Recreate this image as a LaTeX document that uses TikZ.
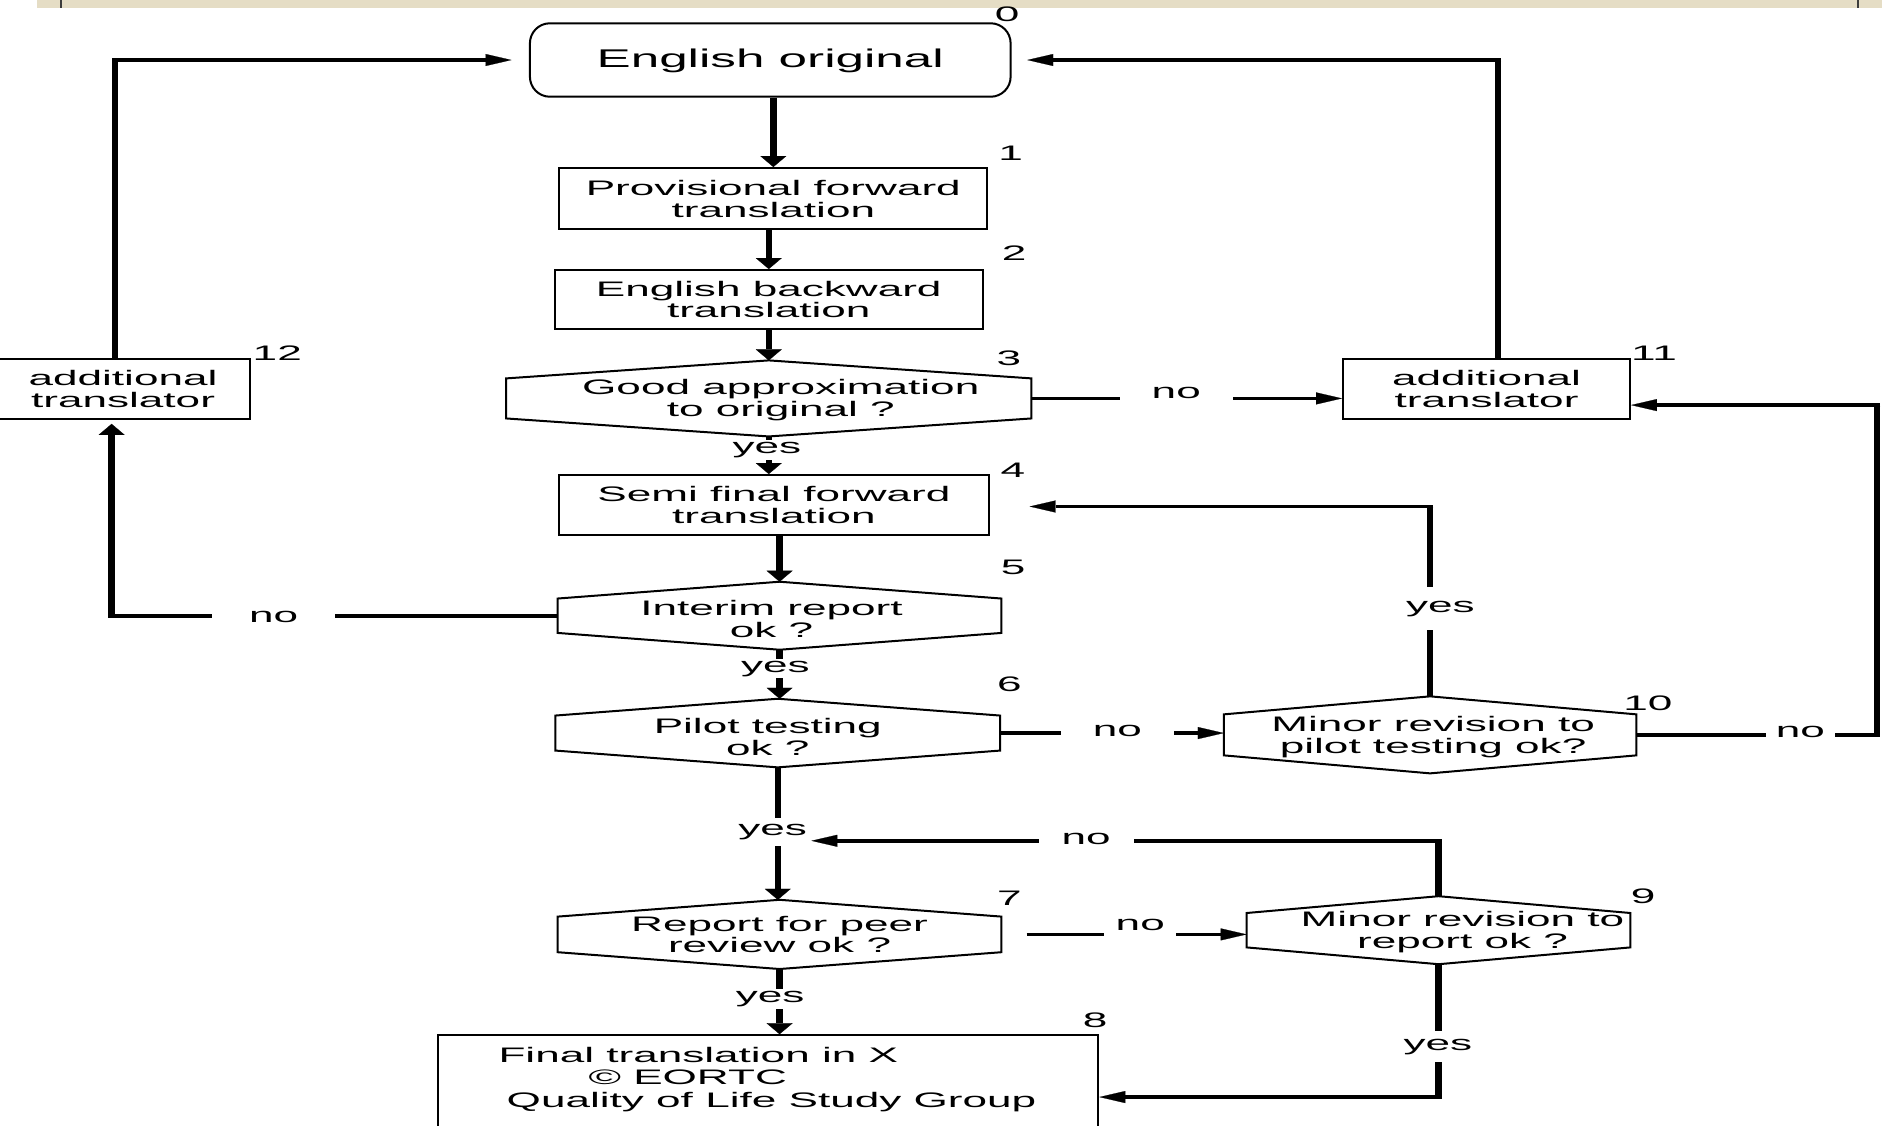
\documentclass[tikz,border=0pt]{standalone}
\usepackage{fontspec}
\setmainfont{Liberation Sans}[FakeStretch=2.1]
\newfontfamily\titlefont{Liberation Sans}[FakeStretch=2.0]
\usetikzlibrary{arrows.meta,calc,fit}
\pgfdeclarelayer{bg}
\pgfsetlayers{bg,main}
\definecolor{bandbeige}{RGB}{229,221,197}
\definecolor{banddark}{RGB}{60,60,60}
\tikzset{
  txt/.style={font=\fontsize{10.5}{10.9}\selectfont, align=center},
  box/.style={draw, line width=1pt, inner sep=0pt},
  hexn/.style={inner sep=0pt},
  hexb/.style={draw, line width=1pt, line join=miter},
  num/.style={font=\fontsize{10.5}{10.9}\selectfont, inner sep=0pt},
  lbl/.style={font=\fontsize{10.5}{10.9}\selectfont, fill=white, inner xsep=2pt, inner ysep=1pt},
  vline/.style={line width=3.2pt},
  hline/.style={line width=1.8pt},
  varrow/.style={-{Triangle[length=5.5pt,width=13pt,line width=0.1pt]}},
  harrow/.style={-{Triangle[length=13pt,width=6pt,line width=0.1pt]}},
}
\newcommand\hexdraw[2]{\draw[hexb] (#1.north) -- ($(#1.north east)+(0,#2)$) -- ($(#1.south east)+(0,-#2)$) -- (#1.south) -- ($(#1.south west)+(0,-#2)$) -- ($(#1.north west)+(0,#2)$) -- cycle;}
\begin{document}
\begin{tikzpicture}[x=0.6pt,y=-0.6pt]
\useasboundingbox (0,0) rectangle (1568,938);
\clip (0,0) rectangle (1568,938);

% top band
\fill[bandbeige] (31,0) rectangle (1568,6.3);
\draw[banddark, line width=1pt] (51,0) -- (51,6.3);
\draw[banddark, line width=1pt] (1548,0) -- (1548,6.3);

% nodes
\node[box, rounded corners=10pt, fit={(441.5,19.4) (842,80.6)}, label={[txt, font=\titlefont\fontsize{12.8}{13.5}\selectfont, yshift=-0.5pt]center:{English original}}] (n0) {};
\node[box, fit={(466,140) (822.6,191)}, label={[txt]center:{Provisional forward\\translation}}] (n1) {};
\node[box, fit={(462,225) (819,274)}, label={[txt]center:{English backward\\translation}}] (n2) {};
\node[hexn, fit={(422,300.6) (859,363.3)}, label={[txt, xshift=6pt, yshift=-0.8pt]center:{Good approximation\\to original ?}}] (n3) {};
\hexdraw{n3}{15}
\node[box, fit={(466,395.8) (823.6,445.8)}, label={[txt]center:{Semi final forward\\translation}}] (n4) {};
\node[hexn, fit={(465,485) (834,541)}, label={[txt, xshift=-4pt, yshift=-1.8pt]center:{Interim report\\ok ?}}] (n5) {};
\hexdraw{n5}{14}
\node[hexn, fit={(463,582.5) (833,639)}, label={[txt, xshift=-5pt, yshift=-1.8pt]center:{Pilot testing\\ok ?}}] (n6) {};
\hexdraw{n6}{14}
\node[hexn, fit={(465,750) (834,807)}, label={[txt]center:{Report for peer\\review ok ?}}] (n7) {};
\hexdraw{n7}{14}
\node[box, fit={(365,862.5) (915,960)}] (n8) {};
\node[txt, align=left, anchor=north west, inner sep=0pt, font=\fontsize{10.5}{11.25}\selectfont] (n8t) at (415,872) {Final translation in X\\\hspace*{45pt}© EORTC\\\hspace*{4.1pt}Quality of Life Study Group};
\node[hexn, fit={(1039,747) (1358,803)}, label={[txt, xshift=12pt, yshift=-1pt]center:{Minor revision to\\report ok ?}}] (n9) {};
\hexdraw{n9}{14}
\node[hexn, fit={(1020,580.5) (1363,644)}, label={[txt, xshift=1.5pt, yshift=-1.2pt]center:{Minor revision to\\pilot testing ok?}}] (n10) {};
\hexdraw{n10}{15}
\node[box, fit={(1119,299) (1358,349)}, label={[txt]center:{additional\\translator}}] (n11) {};
\node[box, fit={(-3,299) (208,349)}, label={[txt]center:{additional\\translator}}] (n12) {};

% numbers
\node[num] (m0) at (839,12) {0};
\node[num] (m1) at (842,128) {1};
\node[num] (m2) at (845,211) {2};
\node[num] (m3) at (840.6,298.4) {3};
\node[num] (m4) at (843.8,391.7) {4};
\node[num] (m5) at (844,473) {5};
\node[num] (m6) at (841,570) {6};
\node[num] (m7) at (841,748) {7};
\node[num] (m8) at (912.5,850) {8};
\node[num] (m9) at (1369,747) {9};
\node[num] (m10) at (1373,586) {10};
\node[num] (m11) at (1378,294) {11};
\node[num] (m12) at (231,294) {12};

% connector labels
\node[lbl] (yes34) at (639,375) {yes};
\node[lbl] (yes56) at (646,557) {yes};
\node[lbl, inner ysep=3pt] (yes67) at (643.7,693) {yes};
\node[lbl] (yes78) at (641.7,832.5) {yes};
\node[lbl, inner xsep=16pt] (no311) at (980,327) {no};
\node[lbl, inner xsep=18.5pt] (no512) at (228,514) {no};
\node[lbl, inner xsep=16pt] (no610) at (931,609) {no};
\node[lbl, inner ysep=7pt] (yes104) at (1200,507) {yes};
\node[lbl, inner xsep=5pt] (no1011) at (1500,610) {no};
\node[lbl, inner xsep=11.5pt] (no9) at (905,699) {no};
\node[lbl, fill=none, inner xsep=5.5pt] (no79) at (950,771) {no};
\node[lbl, inner ysep=4pt] (yes98) at (1198,872) {yes};

\coordinate (k11) at (1248,50);
\coordinate (k12) at (96,50);
\coordinate (k5) at (93,516);
\coordinate (k10) at (1199,422);
\coordinate (k10r) at (1564,612.5);
\coordinate (k11r) at (1564,337.5);
\coordinate (k9) at (1198.5,700.5);
\coordinate (k98) at (1198,914);

\begin{pgfonlayer}{bg}
% main column
\draw[vline,varrow] (n1.north |- n0.south) -- (n1.north);
\draw[vline,varrow] (n2.north |- n1.south) -- (n2.north);
\draw[vline,varrow] (n3.north |- n2.south) -- (n3.north);
\draw[vline,varrow] (n3.south) -- (n3.south |- n4.north);
\draw[vline,varrow] (n5.north |- n4.south) -- (n5.north);
\draw[vline,varrow] (n5.south) -- (n5.south |- n6.north);
\draw[vline,varrow] (n6.south) -- (n6.south |- n7.north);
\draw[vline,varrow] (n7.south) -- (n7.south |- n8.north);
% 3 -> 11
\draw[hline,harrow] (n3.east) -- (n3.east -| n11.west);
% 11 -> 0
\draw[vline, shorten >=-0.9pt] (k11 |- n11.north) -- (k11);
\draw[hline,harrow, shorten <=-1.6pt, shorten >=7.8pt] (k11) -- (n0.east);
% 12 -> 0
\draw[vline, shorten >=-0.9pt] (k12 |- n12.north) -- (k12);
\draw[hline,harrow, shorten <=-1.6pt, shorten >=8.7pt] (k12) -- (n0.west);
% 5 -> 12
\draw[hline, shorten >=-1.6pt] (n5.west) -- (n5.west -| k5);
\draw[vline,varrow, shorten <=-0.9pt, shorten >=2pt] (k5 |- n5.west) -- (k5 |- n12.south);
% 6 -> 10
\draw[hline,harrow] (n6.east) -- (n6.east -| n10.west);
% 10 -> 4
\draw[vline, shorten >=-0.9pt] (n10.north) -- (n10.north |- k10);
\draw[hline,harrow, shorten <=-1.6pt, shorten >=20pt] (n10.north |- k10) -- (n4.east |- k10);
% 10 -> 11
\draw[hline, shorten >=-1.6pt] (n10.east) -- (n10.east -| k10r);
\draw[vline, shorten <=-0.9pt, shorten >=-0.9pt] (n10.east -| k10r) -- (k11r);
\draw[hline,harrow, shorten <=-1.6pt] (k11r) -- (n11.east |- k11r);
% 9 -> yes (6->7)
\draw[vline, shorten >=-0.9pt] (n9.north) -- (n9.north |- k9);
\draw[hline,harrow, shorten <=-1.6pt] (n9.north |- k9) -- (yes67.east |- k9);
% 7 -> 9
\draw[hline, shorten <=12.6pt] (n7.east) -- (n7.east -| no79.west);
\draw[hline,harrow] (n7.east -| no79.east) -- (n7.east -| n9.west);
% 9 -> 8
\draw[vline, shorten >=-0.9pt] (n9.south) -- (n9.south |- k98);
\draw[hline,harrow, shorten <=-1.6pt] (n9.south |- k98) -- (n8.east |- k98);
\end{pgfonlayer}
\end{tikzpicture}
\end{document}
